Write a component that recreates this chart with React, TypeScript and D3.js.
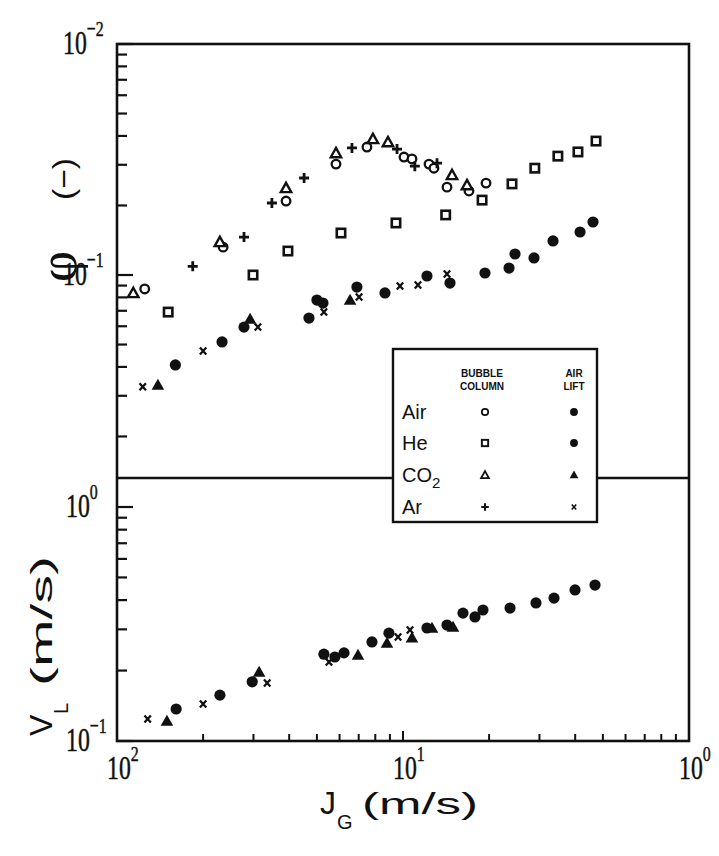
import React from 'react';
import * as d3 from 'd3';

// Bubble column (open symbols), upper panel: J_G (m/s) vs phi (-)
const bcAirJg = [0.0125, 0.0235, 0.039, 0.0583, 0.0748, 0.1008, 0.1075, 0.1233, 0.1283, 0.1425, 0.1701, 0.1951];
const bcAirPhi = [0.087, 0.132, 0.209, 0.302, 0.358, 0.324, 0.318, 0.302, 0.29, 0.24, 0.231, 0.25];
const bcHeJg = [0.0151, 0.0299, 0.0396, 0.0607, 0.0945, 0.141, 0.189, 0.2405, 0.289, 0.348, 0.409, 0.473];
const bcHePhi = [0.0691, 0.1, 0.127, 0.152, 0.168, 0.182, 0.211, 0.248, 0.29, 0.327, 0.341, 0.38];
const bcCo2Jg = [0.0114, 0.0229, 0.039, 0.0583, 0.0785, 0.0886, 0.1484, 0.1674];
const bcCo2Phi = [0.0836, 0.139, 0.238, 0.337, 0.388, 0.376, 0.271, 0.245];
const bcArJg = [0.0184, 0.0278, 0.0348, 0.0451, 0.0663, 0.0953, 0.11, 0.1315];
const bcArPhi = [0.109, 0.146, 0.205, 0.263, 0.355, 0.351, 0.296, 0.305];

// Air lift (filled symbols), upper panel
const alAirJg = [0.016, 0.0233, 0.0278, 0.0469, 0.05, 0.0525, 0.069, 0.0865, 0.1213, 0.146];
const alAirPhi = [0.0408, 0.0513, 0.0595, 0.0651, 0.0779, 0.0756, 0.0887, 0.0836, 0.099, 0.0923];
const alHeJg = [0.1935, 0.2348, 0.2464, 0.2871, 0.3346, 0.4159, 0.4617];
const alHePhi = [0.102, 0.1072, 0.1233, 0.1185, 0.1404, 0.1535, 0.1696];
const alCo2Jg = [0.0139, 0.0292, 0.0653];
const alCo2Phi = [0.0334, 0.0645, 0.0779];
const alArJg = [0.0123, 0.02, 0.0311, 0.0529, 0.0702, 0.0976, 0.1128, 0.1425];
const alArPhi = [0.0328, 0.0469, 0.0595, 0.0691, 0.0803, 0.0896, 0.0905, 0.101];

// Air lift, lower panel: J_G vs V_L (m/s)
const vlAirJg = [0.0161, 0.0229, 0.0297, 0.0529, 0.0578, 0.0622, 0.0779, 0.0893, 0.1213];
const vlAirVl = [0.137, 0.157, 0.179, 0.235, 0.2285, 0.238, 0.265, 0.289, 0.304];
const vlHeJg = [0.1425, 0.1621, 0.1785, 0.1904, 0.2367, 0.2917, 0.3373, 0.3995, 0.4692];
const vlHeVl = [0.313, 0.352, 0.339, 0.363, 0.37, 0.389, 0.408, 0.442, 0.464];
const vlCo2Jg = [0.01495, 0.0314, 0.0696, 0.0879, 0.1075, 0.1263, 0.1496];
const vlCo2Vl = [0.1217, 0.197, 0.233, 0.262, 0.276, 0.304, 0.307];
const vlArJg = [0.0128, 0.02, 0.0335, 0.0551, 0.0961, 0.1058];
const vlArVl = [0.1242, 0.1439, 0.177, 0.2176, 0.2783, 0.2981];

// tick labels as printed on the figure
const xTickVals = [0.01, 0.1, 1];
const xTickExps = ['2', '1', '0'];
const phiTickVals = [1, 0.1];
const phiTickExps = ['\u22122', '\u22121'];
const vlTickVals = [1, 0.1];
const vlTickExps = ['0', '\u22121'];

const legendGases = ['Air', 'He', 'CO', 'Ar'];
const legendBubble = ['oc', 'os', 'ot', 'plus'];
const legendAirLift = ['fc', 'fc', 'ft', 'x'];

const INK = '#111';
const zip = (a: number[], b: number[]) => a.map((v, i) => [v, b[i]] as [number, number]);

const Marker: React.FC<{ kind: string; x: number; y: number; s?: number }> = ({ kind, x, y, s = 1 }) => {
  switch (kind) {
    case 'oc':
      return <circle cx={x} cy={y} r={4.3 * s} fill="white" stroke={INK} strokeWidth={2.3 * s} />;
    case 'os':
      return <rect x={x - 4.2 * s} y={y - 4.2 * s} width={8.4 * s} height={8.4 * s} fill="white" stroke={INK} strokeWidth={2.6 * s} />;
    case 'ot': {
      const r = 5.2 * s;
      return <path d={`M${x},${y - r}L${x + r},${y + r * 0.8}L${x - r},${y + r * 0.8}Z`} fill="white" stroke={INK} strokeWidth={2.4 * s} />;
    }
    case 'plus':
      return <path d={`M${x - 5 * s},${y}H${x + 5 * s}M${x},${y - 5 * s}V${y + 5 * s}`} stroke={INK} strokeWidth={2.8 * s} />;
    case 'fc':
      return <circle cx={x} cy={y} r={5.6 * s} fill={INK} />;
    case 'ft': {
      const r = 6.3 * s;
      return <path d={`M${x},${y - r}L${x + r},${y + r * 0.75}L${x - r},${y + r * 0.75}Z`} fill={INK} />;
    }
    case 'x':
      return <path d={`M${x - 3.2 * s},${y - 3.5 * s}L${x + 3.2 * s},${y + 3.5 * s}M${x + 3.2 * s},${y - 3.5 * s}L${x - 3.2 * s},${y + 3.5 * s}`} stroke={INK} strokeWidth={2.3 * s} />;
    default:
      return null;
  }
};

const isMajor = (v: number) => Math.abs(Math.log10(v) - Math.round(Math.log10(v))) < 1e-6;

// "10" with a superscript, squeezed horizontally like the original lettering
const PowerLabel: React.FC<{ x: number; y: number; exp: string }> = ({ x, y, exp }) => (
  <g transform={`translate(${x},${y}) scale(0.72,1)`}>
    <text x={0} y={0} fontFamily='"Liberation Serif", "DejaVu Serif", serif' fontSize={33} fill={INK} stroke={INK} strokeWidth={0.5}>
      10<tspan dy={-18} fontSize={22}>{exp}</tspan>
    </text>
  </g>
);

export default function App() {
  const left = 117, right = 689, top = 44, mid = 478, bottom = 741;

  const x = d3.scaleLog().domain([0.01, 1]).range([left, right]);
  const yPhi = d3.scaleLog().domain([0.1, 1]).range([275, top]);
  const yVl = d3.scaleLog().domain([0.1, 1]).range([bottom, 507]);

  const xTicks = x.ticks();
  const phiTicks = d3.scaleLog().domain([0.01, 1]).ticks().filter(v => yPhi(v) < mid - 3);
  const vlTicks = yVl.ticks();

  const upper: [string, [number, number][]][] = [
    ['oc', zip(bcAirJg, bcAirPhi)],
    ['os', zip(bcHeJg, bcHePhi)],
    ['ot', zip(bcCo2Jg, bcCo2Phi)],
    ['plus', zip(bcArJg, bcArPhi)],
    ['fc', zip(alAirJg, alAirPhi)],
    ['fc', zip(alHeJg, alHePhi)],
    ['ft', zip(alCo2Jg, alCo2Phi)],
    ['x', zip(alArJg, alArPhi)],
  ];
  const lower: [string, [number, number][]][] = [
    ['fc', zip(vlAirJg, vlAirVl)],
    ['fc', zip(vlHeJg, vlHeVl)],
    ['ft', zip(vlCo2Jg, vlCo2Vl)],
    ['x', zip(vlArJg, vlArVl)],
  ];

  const serif = '"Liberation Serif", "DejaVu Serif", serif';
  const sans = '"Liberation Sans", Arial, sans-serif';

  const lg = { x0: 393, y0: 349, x1: 597, y1: 522 };
  const rowY = [412, 443, 475, 507];

  return (
    <svg width={719} height={856} style={{ position: 'absolute', left: 0, top: 0, background: 'white' }}>
      <defs>
        <clipPath id="upperClip">
          <rect x={left} y={top} width={right - left} height={mid - top} />
        </clipPath>
      </defs>

      {/* left axis ticks */}
      {phiTicks.map((v, i) => (
        <line key={'pt' + i} x1={left} x2={left + (isMajor(v) ? 16 : 10)} y1={yPhi(v)} y2={yPhi(v)} stroke={INK} strokeWidth={2.2} />
      ))}
      {vlTicks.map((v, i) => (
        <line key={'vt' + i} x1={left} x2={left + (isMajor(v) ? 16 : 10)} y1={yVl(v)} y2={yVl(v)} stroke={INK} strokeWidth={2.2} />
      ))}
      {/* bottom axis ticks */}
      {xTicks.map((v, i) => (
        <line key={'xt' + i} x1={x(v)} x2={x(v)} y1={bottom} y2={bottom - (isMajor(v) ? 10 : 7)} stroke={INK} strokeWidth={2} />
      ))}

      {/* frame */}
      <rect x={left} y={top} width={right - left} height={bottom - top} fill="none" stroke={INK} strokeWidth={2.6} />
      <line x1={left} x2={right} y1={mid} y2={mid} stroke={INK} strokeWidth={2.4} />

      {/* data, upper panel */}
      <g clipPath="url(#upperClip)">
        {upper.map(([kind, pts], si) =>
          pts.map(([jg, v], i) => <Marker key={`u${si}-${i}`} kind={kind} x={x(jg)} y={yPhi(v)} />)
        )}
      </g>
      {/* data, lower panel */}
      {lower.map(([kind, pts], si) =>
        pts.map(([jg, v], i) => <Marker key={`l${si}-${i}`} kind={kind} x={x(jg)} y={yVl(v)} />)
      )}

      {/* legend */}
      <rect x={lg.x0} y={lg.y0} width={lg.x1 - lg.x0} height={lg.y1 - lg.y0} fill="white" stroke={INK} strokeWidth={2.4} />
      <g fontFamily={sans} fontWeight="bold" fontSize={10} fill={INK} textAnchor="middle">
        <text x={482} y={377} textLength={42} lengthAdjust="spacingAndGlyphs">BUBBLE</text>
        <text x={482} y={390} textLength={44} lengthAdjust="spacingAndGlyphs">COLUMN</text>
        <text x={574} y={377}>AIR</text>
        <text x={574} y={390}>LIFT</text>
      </g>
      {legendGases.map((g, i) => (
        <g key={'lg' + i}>
          <text x={402} y={rowY[i] + 7} fontFamily={sans} fontSize={20} fill={INK}>
            {g}
            {g === 'CO' ? <tspan dy={6} fontSize={15}>2</tspan> : null}
          </text>
          <Marker kind={legendBubble[i]} x={485} y={rowY[i]} s={0.75} />
          <Marker kind={legendAirLift[i]} x={574} y={rowY[i]} s={0.7} />
        </g>
      ))}

      {/* x tick labels */}
      {xTickVals.map((v, i) => (
        <PowerLabel key={'xl' + i} x={x(v) - 10} y={779} exp={xTickExps[i]} />
      ))}
      {/* y tick labels */}
      {phiTickVals.map((v, i) => (
        <PowerLabel key={'pl' + i} x={63} y={yPhi(v) + 10} exp={phiTickExps[i]} />
      ))}
      {vlTickVals.map((v, i) => (
        <PowerLabel key={'vl' + i} x={66} y={yVl(v) + 10} exp={vlTickExps[i]} />
      ))}

      {/* axis titles */}
      <g fontFamily={sans} fill={INK}>
        <text x={320} y={814} fontSize={32}>J</text>
        <text x={337} y={829} fontSize={20}>G</text>
        <text x={362} y={814} fontSize={30} textLength={116} lengthAdjust="spacingAndGlyphs">(m/s)</text>

        <g transform="translate(52,736) rotate(-90)">
          <text x={0} y={0} fontSize={32}>V</text>
          <text x={22} y={16} fontSize={20}>L</text>
          <text x={50} y={0} fontSize={30} textLength={130} lengthAdjust="spacingAndGlyphs">(m/s)</text>
        </g>

        <g transform="translate(76,282) rotate(-90)">
          <text x={0} y={0} fontSize={54} fontFamily={serif}>φ</text>
          <text x={82} y={-2} fontSize={30} textLength={42} lengthAdjust="spacingAndGlyphs">(−)</text>
        </g>
      </g>
    </svg>
  );
}
